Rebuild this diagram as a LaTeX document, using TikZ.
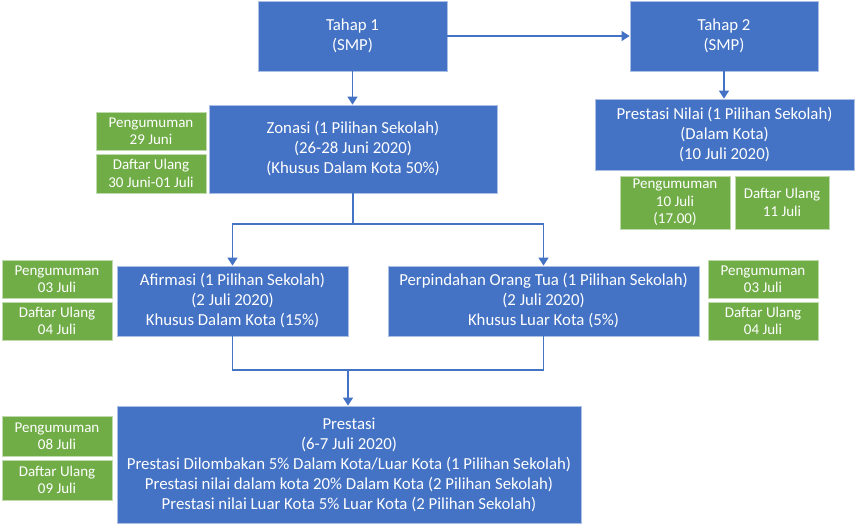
\documentclass[tikz,border=0pt]{standalone}
\usepackage{fontspec}
\setmainfont{Carlito}
\usetikzlibrary{arrows.meta}
\definecolor{obl}{HTML}{4472C4}
\definecolor{ogr}{HTML}{70AD47}
\tikzset{
  x=1pt,y=-1pt,
  bluebox/.style={rectangle,fill=obl,draw=obl!45!white,line width=0.8pt,text=white,align=center,inner sep=0pt,font=\fontsize{16.8}{20}\selectfont},
  greenbox/.style={rectangle,fill=ogr,draw=ogr!45!white,line width=0.8pt,text=white,align=center,inner sep=0pt,font=\fontsize{15}{17.5}\selectfont,minimum width=110pt},
  conn/.style={draw=obl,line width=1.5pt},
  arr/.style={conn,-{Triangle[length=8pt,width=10pt]}}
}
\begin{document}
\begin{tikzpicture}
\useasboundingbox (0,0) rectangle (855,525);
% blue nodes
\node[bluebox,minimum width=189pt,minimum height=70pt] (t1) at (352.5,36) {Tahap 1\\(SMP)};
\node[bluebox,minimum width=188pt,minimum height=70pt] (t2) at (724,36) {Tahap 2\\(SMP)};
\node[bluebox,minimum width=288pt,minimum height=88pt] (zon) at (353,149) {Zonasi (1 Pilihan Sekolah)\\(26-28 Juni 2020)\\(Khusus Dalam Kota 50\%)};
\node[bluebox,minimum width=259pt,minimum height=71pt] (pn) at (724.5,134.5) {Prestasi Nilai (1 Pilihan Sekolah)\\(Dalam Kota)\\(10 Juli 2020)};
\node[bluebox,minimum width=231pt,minimum height=70pt] (af) at (232.5,301) {Afirmasi (1 Pilihan Sekolah)\\(2 Juli 2020)\\Khusus Dalam Kota (15\%)};
\node[bluebox,minimum width=311pt,minimum height=70pt] (pp) at (543.5,301) {Perpindahan Orang Tua (1 Pilihan Sekolah)\\(2 Juli 2020)\\Khusus Luar Kota (5\%)};
\node[bluebox,minimum width=464pt,minimum height=117pt] (pr) at (349,464.5) {Prestasi\\(6-7 Juli 2020)\\Prestasi Dilombakan 5\% Dalam Kota/Luar Kota (1 Pilihan Sekolah)\\Prestasi nilai dalam kota 20\% Dalam Kota (2 Pilihan Sekolah)\\Prestasi nilai Luar Kota 5\% Luar Kota (2 Pilihan Sekolah)};
% green nodes
\node[greenbox,minimum height=38pt] (zg1) at (151,131) {Pengumuman\\29 Juni};
\node[greenbox,minimum height=39pt] (zg2) at (151,173.5) {Daftar Ulang\\30 Juni-01 Juli};
\node[greenbox,minimum height=53pt] (pg1) at (675,202.5) {Pengumuman\\10 Juli\\(17.00)};
\node[greenbox,minimum width=94pt,minimum height=53pt] (pg2) at (782,202.5) {Daftar Ulang\\11 Juli};
\node[greenbox,minimum height=38pt] (ag1) at (57,279) {Pengumuman\\03 Juli};
\node[greenbox,minimum height=38pt] (ag2) at (57,321) {Daftar Ulang\\04 Juli};
\node[greenbox,minimum height=38pt] (rg1) at (763,279) {Pengumuman\\03 Juli};
\node[greenbox,minimum height=38pt] (rg2) at (763,321) {Daftar Ulang\\04 Juli};
\node[greenbox,minimum height=40pt] (prg1) at (57,436) {Pengumuman\\08 Juli};
\node[greenbox,minimum height=40pt] (prg2) at (57,480) {Daftar Ulang\\09 Juli};
% junctions
\coordinate (j1) at (353,224);
\coordinate (j2) at (348,370);
% connectors
\draw[arr] (t1.east) -- (t2.west);
\draw[arr] (t1.south) -- (t1.south |- zon.north);
\draw[arr] (t2.south) -- (t2.south |- pn.north);
\draw[conn] (zon.south) -- (j1);
\draw[arr] (j1) -| (af.north);
\draw[arr] (j1) -| (pp.north);
\draw[conn] (af.south) |- (j2);
\draw[conn] (pp.south) |- (j2);
\draw[arr] (j2) -- (j2 |- pr.north);
\end{tikzpicture}
\end{document}
